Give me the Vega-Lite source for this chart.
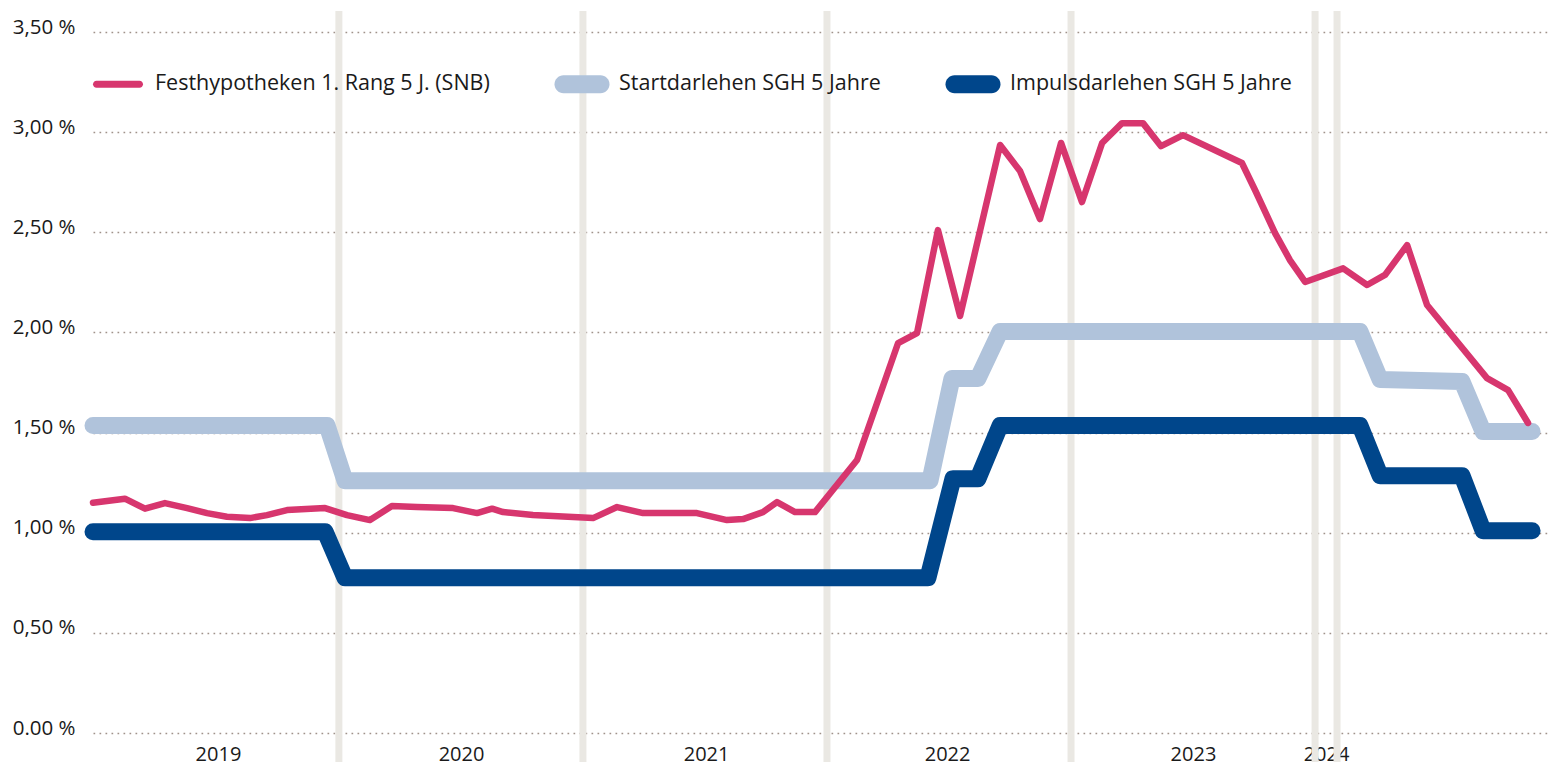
{
  "$schema": "https://vega.github.io/schema/vega-lite/v6.json",
  "width": 1458,
  "height": 701,
  "autosize": {"type": "none"},
  "padding": {"left": 93, "top": 32, "right": 0, "bottom": 32},
  "background": "white",
  "config": {
    "view": {"stroke": null},
    "font": "Open Sans",
    "axisY": {
      "domain": false, "ticks": false, "tickSize": 0,
      "grid": true, "gridColor": "#a0928a", "gridDash": [1.7, 4.3], "gridWidth": 1.7,
      "labelFont": "Open Sans", "labelFontSize": 20.5, "labelColor": "#1a1a1a",
      "labelPadding": 18, "labelBaseline": "alphabetic", "labelOffset": 1
    },
    "axisX": {
      "domain": false, "ticks": false, "tickSize": 0, "grid": false,
      "labelFont": "Open Sans", "labelFontSize": 20, "labelColor": "#1a1a1a",
      "labelPadding": 27, "labelBaseline": "alphabetic"
    },
    "legend": {
      "labelFont": "Open Sans", "labelFontSize": 21.5, "labelColor": "#1a1a1a", "labelLimit": 0
    }
  },
  "datasets": {
    "bands": [{"m": 12.1}, {"m": 24.11}, {"m": 36.12}, {"m": 48.13}, {"m": 60.14}, {"m": 61.22}],
    "rates": [
      {"series": "Startdarlehen SGH 5 Jahre", "m": 0, "v": 1.535},
      {"series": "Startdarlehen SGH 5 Jahre", "m": 11.52, "v": 1.535},
      {"series": "Startdarlehen SGH 5 Jahre", "m": 12.4, "v": 1.26},
      {"series": "Startdarlehen SGH 5 Jahre", "m": 41.19, "v": 1.26},
      {"series": "Startdarlehen SGH 5 Jahre", "m": 42.27, "v": 1.77},
      {"series": "Startdarlehen SGH 5 Jahre", "m": 43.55, "v": 1.77},
      {"series": "Startdarlehen SGH 5 Jahre", "m": 44.64, "v": 2.005},
      {"series": "Startdarlehen SGH 5 Jahre", "m": 62.35, "v": 2.005},
      {"series": "Startdarlehen SGH 5 Jahre", "m": 63.34, "v": 1.765},
      {"series": "Startdarlehen SGH 5 Jahre", "m": 67.37, "v": 1.755},
      {"series": "Startdarlehen SGH 5 Jahre", "m": 68.41, "v": 1.505},
      {"series": "Startdarlehen SGH 5 Jahre", "m": 70.82, "v": 1.505},
      {"series": "Impulsdarlehen SGH 5 Jahre", "m": 0, "v": 1.005},
      {"series": "Impulsdarlehen SGH 5 Jahre", "m": 11.42, "v": 1.005},
      {"series": "Impulsdarlehen SGH 5 Jahre", "m": 12.4, "v": 0.775},
      {"series": "Impulsdarlehen SGH 5 Jahre", "m": 41.09, "v": 0.775},
      {"series": "Impulsdarlehen SGH 5 Jahre", "m": 42.32, "v": 1.27},
      {"series": "Impulsdarlehen SGH 5 Jahre", "m": 43.55, "v": 1.27},
      {"series": "Impulsdarlehen SGH 5 Jahre", "m": 44.64, "v": 1.535},
      {"series": "Impulsdarlehen SGH 5 Jahre", "m": 62.35, "v": 1.535},
      {"series": "Impulsdarlehen SGH 5 Jahre", "m": 63.34, "v": 1.285},
      {"series": "Impulsdarlehen SGH 5 Jahre", "m": 67.37, "v": 1.285},
      {"series": "Impulsdarlehen SGH 5 Jahre", "m": 68.41, "v": 1.01},
      {"series": "Impulsdarlehen SGH 5 Jahre", "m": 70.82, "v": 1.01},
      {"series": "Festhypotheken 1. Rang 5 J. (SNB)", "m": 0, "v": 1.15},
      {"series": "Festhypotheken 1. Rang 5 J. (SNB)", "m": 1.57, "v": 1.17},
      {"series": "Festhypotheken 1. Rang 5 J. (SNB)", "m": 2.56, "v": 1.12},
      {"series": "Festhypotheken 1. Rang 5 J. (SNB)", "m": 3.54, "v": 1.148},
      {"series": "Festhypotheken 1. Rang 5 J. (SNB)", "m": 4.63, "v": 1.123},
      {"series": "Festhypotheken 1. Rang 5 J. (SNB)", "m": 5.61, "v": 1.098},
      {"series": "Festhypotheken 1. Rang 5 J. (SNB)", "m": 6.59, "v": 1.08},
      {"series": "Festhypotheken 1. Rang 5 J. (SNB)", "m": 7.73, "v": 1.073},
      {"series": "Festhypotheken 1. Rang 5 J. (SNB)", "m": 8.56, "v": 1.088},
      {"series": "Festhypotheken 1. Rang 5 J. (SNB)", "m": 9.55, "v": 1.113},
      {"series": "Festhypotheken 1. Rang 5 J. (SNB)", "m": 11.42, "v": 1.123},
      {"series": "Festhypotheken 1. Rang 5 J. (SNB)", "m": 12.5, "v": 1.088},
      {"series": "Festhypotheken 1. Rang 5 J. (SNB)", "m": 13.63, "v": 1.063},
      {"series": "Festhypotheken 1. Rang 5 J. (SNB)", "m": 14.71, "v": 1.133},
      {"series": "Festhypotheken 1. Rang 5 J. (SNB)", "m": 15.94, "v": 1.128},
      {"series": "Festhypotheken 1. Rang 5 J. (SNB)", "m": 17.72, "v": 1.123},
      {"series": "Festhypotheken 1. Rang 5 J. (SNB)", "m": 18.9, "v": 1.098},
      {"series": "Festhypotheken 1. Rang 5 J. (SNB)", "m": 19.64, "v": 1.12},
      {"series": "Festhypotheken 1. Rang 5 J. (SNB)", "m": 20.18, "v": 1.103},
      {"series": "Festhypotheken 1. Rang 5 J. (SNB)", "m": 21.65, "v": 1.088},
      {"series": "Festhypotheken 1. Rang 5 J. (SNB)", "m": 24.61, "v": 1.073},
      {"series": "Festhypotheken 1. Rang 5 J. (SNB)", "m": 25.79, "v": 1.128},
      {"series": "Festhypotheken 1. Rang 5 J. (SNB)", "m": 27.07, "v": 1.098},
      {"series": "Festhypotheken 1. Rang 5 J. (SNB)", "m": 29.72, "v": 1.098},
      {"series": "Festhypotheken 1. Rang 5 J. (SNB)", "m": 31.2, "v": 1.063},
      {"series": "Festhypotheken 1. Rang 5 J. (SNB)", "m": 31.99, "v": 1.068},
      {"series": "Festhypotheken 1. Rang 5 J. (SNB)", "m": 32.97, "v": 1.103},
      {"series": "Festhypotheken 1. Rang 5 J. (SNB)", "m": 33.66, "v": 1.153},
      {"series": "Festhypotheken 1. Rang 5 J. (SNB)", "m": 34.55, "v": 1.103},
      {"series": "Festhypotheken 1. Rang 5 J. (SNB)", "m": 35.53, "v": 1.103},
      {"series": "Festhypotheken 1. Rang 5 J. (SNB)", "m": 37.6, "v": 1.363},
      {"series": "Festhypotheken 1. Rang 5 J. (SNB)", "m": 39.62, "v": 1.947},
      {"series": "Festhypotheken 1. Rang 5 J. (SNB)", "m": 40.55, "v": 1.997},
      {"series": "Festhypotheken 1. Rang 5 J. (SNB)", "m": 41.58, "v": 2.511},
      {"series": "Festhypotheken 1. Rang 5 J. (SNB)", "m": 42.67, "v": 2.082},
      {"series": "Festhypotheken 1. Rang 5 J. (SNB)", "m": 44.64, "v": 2.936},
      {"series": "Festhypotheken 1. Rang 5 J. (SNB)", "m": 45.62, "v": 2.806},
      {"series": "Festhypotheken 1. Rang 5 J. (SNB)", "m": 46.6, "v": 2.566},
      {"series": "Festhypotheken 1. Rang 5 J. (SNB)", "m": 47.64, "v": 2.946},
      {"series": "Festhypotheken 1. Rang 5 J. (SNB)", "m": 48.67, "v": 2.651},
      {"series": "Festhypotheken 1. Rang 5 J. (SNB)", "m": 49.66, "v": 2.946},
      {"series": "Festhypotheken 1. Rang 5 J. (SNB)", "m": 50.64, "v": 3.045},
      {"series": "Festhypotheken 1. Rang 5 J. (SNB)", "m": 51.67, "v": 3.045},
      {"series": "Festhypotheken 1. Rang 5 J. (SNB)", "m": 52.56, "v": 2.93},
      {"series": "Festhypotheken 1. Rang 5 J. (SNB)", "m": 53.64, "v": 2.985},
      {"series": "Festhypotheken 1. Rang 5 J. (SNB)", "m": 56.54, "v": 2.846},
      {"series": "Festhypotheken 1. Rang 5 J. (SNB)", "m": 57.19, "v": 2.71},
      {"series": "Festhypotheken 1. Rang 5 J. (SNB)", "m": 58.17, "v": 2.496},
      {"series": "Festhypotheken 1. Rang 5 J. (SNB)", "m": 58.91, "v": 2.36},
      {"series": "Festhypotheken 1. Rang 5 J. (SNB)", "m": 59.65, "v": 2.252},
      {"series": "Festhypotheken 1. Rang 5 J. (SNB)", "m": 61.52, "v": 2.32},
      {"series": "Festhypotheken 1. Rang 5 J. (SNB)", "m": 62.7, "v": 2.237},
      {"series": "Festhypotheken 1. Rang 5 J. (SNB)", "m": 63.58, "v": 2.287},
      {"series": "Festhypotheken 1. Rang 5 J. (SNB)", "m": 64.67, "v": 2.436},
      {"series": "Festhypotheken 1. Rang 5 J. (SNB)", "m": 65.65, "v": 2.137},
      {"series": "Festhypotheken 1. Rang 5 J. (SNB)", "m": 68.6, "v": 1.772},
      {"series": "Festhypotheken 1. Rang 5 J. (SNB)", "m": 69.64, "v": 1.712},
      {"series": "Festhypotheken 1. Rang 5 J. (SNB)", "m": 70.62, "v": 1.548}
    ]
  },
  "layer": [
    {
      "data": {"name": "bands"},
      "mark": {"type": "rule", "color": "#eae8e3", "strokeWidth": 7},
      "encoding": {
        "x": {
          "field": "m", "type": "quantitative", "title": null,
          "scale": {"domain": [0, 71.75], "nice": false, "zero": false},
          "axis": {
            "values": [6.15, 18.11, 30.17, 42.03, 54.13, 60.68],
            "labelExpr": "datum.value < 12 ? '2019' : datum.value < 24 ? '2020' : datum.value < 36 ? '2021' : datum.value < 48 ? '2022' : datum.value < 60 ? '2023' : '2024'"
          }
        },
        "y": {
          "datum": -0.145, "type": "quantitative", "title": null,
          "scale": {"domain": [0, 3.5], "nice": false, "zero": true},
          "axis": {
            "values": [0, 0.5, 1, 1.5, 2, 2.5, 3, 3.5],
            "labelExpr": "datum.value == 0 ? '0.00 %' : replace(format(datum.value, '.2f'), '.', ',') + ' %'"
          }
        },
        "y2": {"datum": 3.605}
      }
    },
    {
      "data": {"name": "rates"},
      "transform": [{"filter": "datum.series === 'Startdarlehen SGH 5 Jahre'"}],
      "mark": {"type": "line", "strokeWidth": 17, "strokeCap": "round", "strokeJoin": "round"},
      "encoding": {
        "x": {"field": "m", "type": "quantitative", "title": null},
        "y": {"field": "v", "type": "quantitative", "title": null},
        "color": {
          "field": "series", "type": "nominal",
          "scale": {
            "domain": ["Festhypotheken 1. Rang 5 J. (SNB)", "Startdarlehen SGH 5 Jahre", "Impulsdarlehen SGH 5 Jahre"],
            "range": ["#d7366e", "#b0c3db", "#00468b"]
          },
          "legend": {
            "orient": "none", "legendX": 0, "legendY": 27,
            "direction": "horizontal", "title": null,
            "symbolType": "circle", "symbolSize": 2500, "symbolStrokeWidth": 0,
            "columnPadding": 64, "labelOffset": 12,
            "encode": {
              "symbols": {
                "update": {
                  "shape": {"signal": "datum.value === 'Festhypotheken 1. Rang 5 J. (SNB)' ? 'M-0.86,-0.14L0.86,-0.14A0.14,0.14 0 0 1 0.86,0.14L-0.86,0.14A0.14,0.14 0 0 1 -0.86,-0.14Z' : 'M-0.74,-0.36L0.74,-0.36A0.36,0.36 0 0 1 0.74,0.36L-0.74,0.36A0.36,0.36 0 0 1 -0.74,-0.36Z'"},
                  "fill": {"scale": "color", "field": "value"},
                  "stroke": {"value": "transparent"},
                  "strokeWidth": {"value": 0},
                  "opacity": {"value": 1}
                }
              }
            }
          }
        }
      }
    },
    {
      "data": {"name": "rates"},
      "transform": [{"filter": "datum.series === 'Impulsdarlehen SGH 5 Jahre'"}],
      "mark": {"type": "line", "strokeWidth": 17, "strokeCap": "round", "strokeJoin": "round"},
      "encoding": {
        "x": {"field": "m", "type": "quantitative", "title": null},
        "y": {"field": "v", "type": "quantitative", "title": null},
        "color": {"field": "series", "type": "nominal"}
      }
    },
    {
      "data": {"name": "rates"},
      "transform": [{"filter": "datum.series === 'Festhypotheken 1. Rang 5 J. (SNB)'"}],
      "mark": {"type": "line", "strokeWidth": 6.5, "strokeCap": "round", "strokeJoin": "round"},
      "encoding": {
        "x": {"field": "m", "type": "quantitative", "title": null},
        "y": {"field": "v", "type": "quantitative", "title": null},
        "color": {"field": "series", "type": "nominal"}
      }
    }
  ]
}
